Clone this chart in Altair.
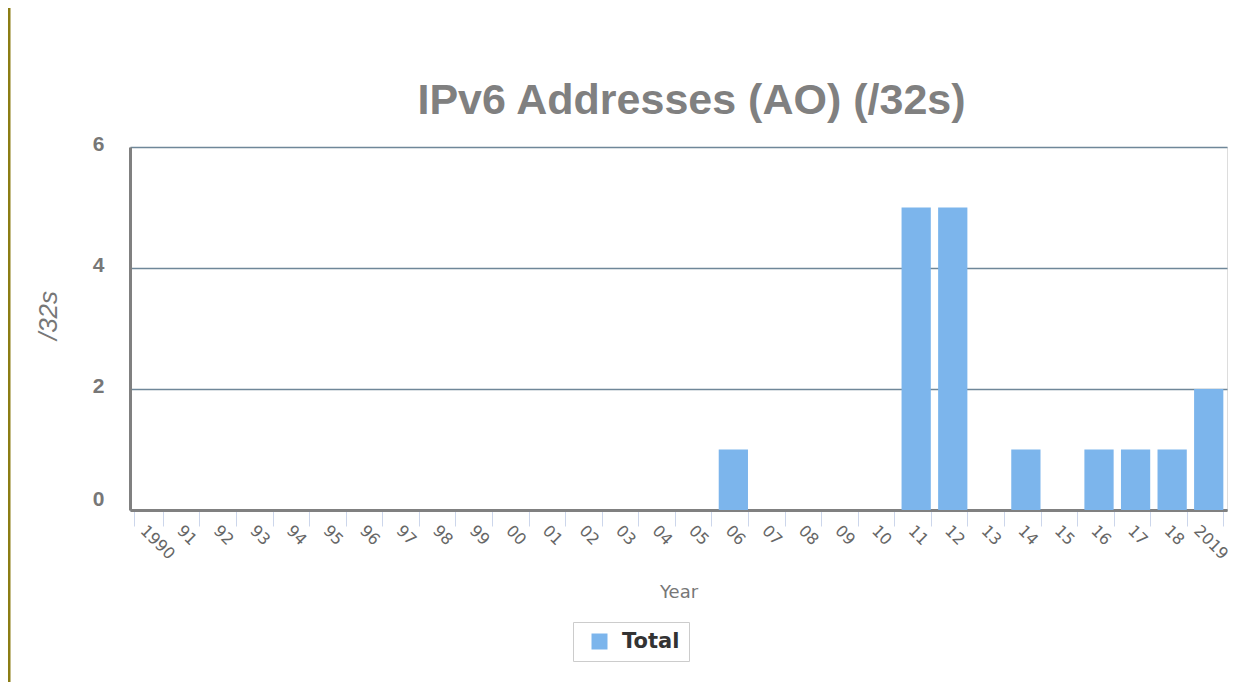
import altair as alt
import pandas as pd

chart_title = "IPv6 Addresses (AO) (/32s)"
years = ["1990", "91", "92", "93", "94", "95", "96", "97", "98", "99",
         "00", "01", "02", "03", "04", "05", "06", "07", "08", "09",
         "10", "11", "12", "13", "14", "15", "16", "17", "18", "2019"]
totals = [0, 0, 0, 0, 0, 0, 0, 0, 0, 0,
          0, 0, 0, 0, 0, 0, 1, 0, 0, 0,
          0, 5, 5, 0, 1, 0, 1, 1, 1, 2]
series = ["Total"] * len(years)

df = pd.DataFrame({"year": years, "value": totals, "series": series})

W, H = 1097, 363

bars = alt.Chart(df).mark_bar().encode(
    x=alt.X("year:N", sort=years,
            scale=alt.Scale(paddingInner=0.2, paddingOuter=0.1),
            axis=alt.Axis(
                title="Year", tickBand="extent", ticks=True, tickSize=16,
                tickColor="#ccd6eb", tickWidth=1,
                domainColor="#808080", domainWidth=3,
                labelAngle=45, labelAlign="left", labelBaseline="top",
                labelFont="DejaVu Sans", labelFontSize=16, labelColor="#666666",
                labelPadding=-4, grid=False, labelBound=False,
                labelOffset=alt.ExprRef("datum.label == '2019' ? -7 : 0"),
                titleFont="DejaVu Sans", titleFontSize=18, titleFontWeight="normal",
                titleColor="#777777", titleY=82, titleBaseline="middle")),
    y=alt.Y("value:Q", scale=alt.Scale(domain=[0, 6], nice=False),
            axis=alt.Axis(
                title="/32s", values=[0, 2, 4, 6], ticks=False,
                domainColor="#808080", domainWidth=3,
                gridColor="#6f8799", gridWidth=1.5,
                labelFont="Liberation Sans", labelFontSize=21, labelFontWeight="bold",
                labelColor="#777777", labelPadding=26,
                labelOffset=alt.ExprRef("datum.value == 0 ? -11 : -3"),
                titleFont="Liberation Sans", titleFontSize=26, titleFontWeight="normal",
                titleFontStyle="italic",
                titleColor="#777777", titleX=-82, titleY=168,
                titleAlign="center", titleBaseline="middle")),
    color=alt.Color("series:N", scale=alt.Scale(range=["#7cb5ec"]),
                    legend=alt.Legend(
                        title=None, orient="none", legendX=443, legendY=475,
                        strokeColor="#cccccc", padding=9, symbolOffset=7,
                        symbolType="square", symbolSize=256, symbolStrokeWidth=0,
                        labelFont="DejaVu Sans", labelFontSize=21,
                        labelFontWeight="bold", labelColor="#333333",
                        labelOffset=12)),
)

title_mark = alt.Chart(pd.DataFrame({"t": [chart_title]})).mark_text(
    font="Liberation Sans", fontSize=43, fontWeight="bold", color="#808080",
    align="center", baseline="alphabetic"
).encode(text="t:N", x=alt.value(W / 2 + 13), y=alt.value(-33))

edge = alt.Chart(pd.DataFrame({"k": [0]})).mark_rule(
    color="#8b7d14", strokeWidth=3
).encode(x=alt.value(-121), y=alt.value(-139), y2=alt.value(H + 180))

chart = alt.layer(edge, title_mark, bars).properties(
    width=W, height=H,
    autosize=alt.AutoSizeParams(type="none"),
    padding={"left": 122, "top": 139, "right": 10, "bottom": 172},
).configure_view(strokeWidth=0).configure(background="white")

chart.save("out.html", embed_options={"renderer": "svg", "actions": False})
